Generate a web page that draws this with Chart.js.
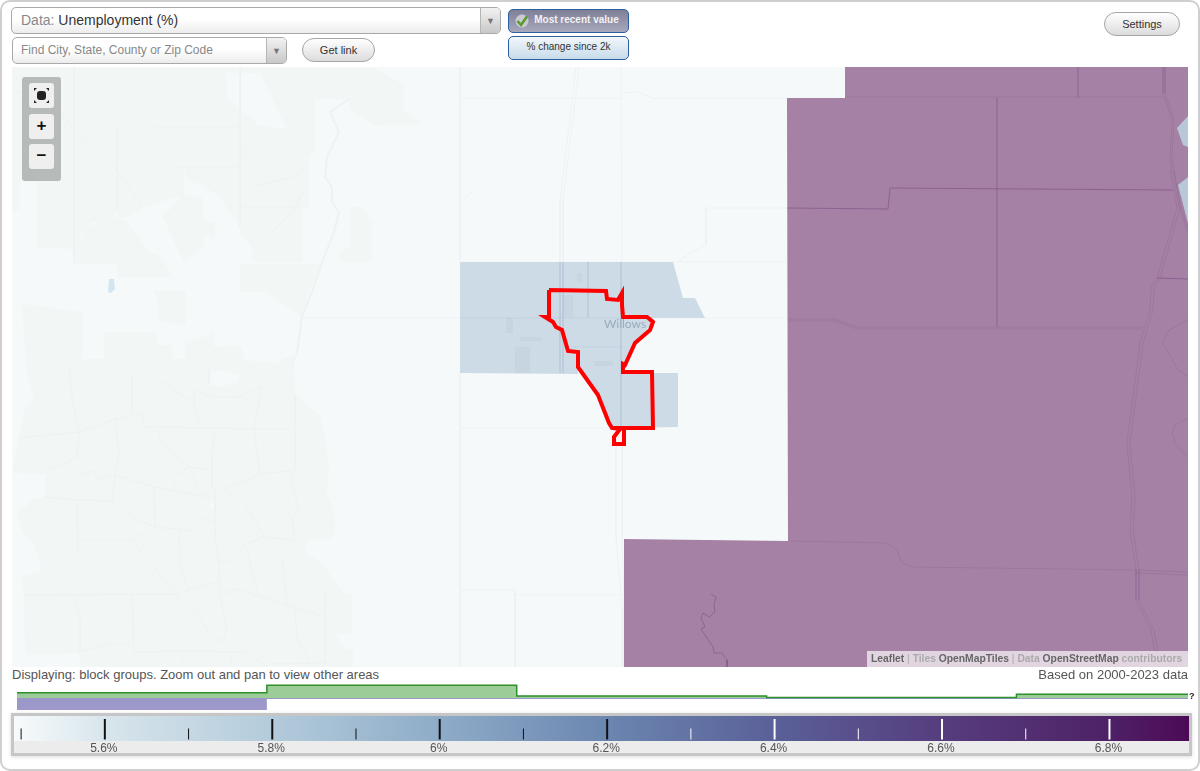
<!DOCTYPE html>
<html>

<head>
    <meta charset="utf-8">
    <title>Unemployment map</title>
    <script src="https://cdn.jsdelivr.net/npm/chart.js"></script>
    <style>
        html, body { margin: 0; padding: 0; background: #fff; }
        body { width: 1200px; height: 771px; position: relative; overflow: hidden; font-family: "Liberation Sans", Arial, sans-serif; }
        .abs { position: absolute; box-sizing: border-box; white-space: nowrap; }
        canvas { position: absolute; display: block; }
        #frame { left: 0; top: 0; width: 1200px; height: 771px; border: 2px solid #cfcfcf; border-radius: 10px; border-top-width: 2px; }
        .combo { border: 1px solid #a9a9a9; border-radius: 5px; background: linear-gradient(#fff 45%, #ececec); color: #888; overflow: hidden; }
        .combo i { position: absolute; right: 0; top: 0; bottom: 0; width: 19px; border-left: 1px solid #b5b5b5; background: linear-gradient(#f2f2f2, #c8c8c8); font-style: normal; color: #777; font-size: 9px; text-align: center; }
        .pill { border: 1px solid #a5a5a5; border-radius: 12px; background: linear-gradient(#fff, #dcdcdc); color: #333; font-size: 11px; text-align: center; }
        .toggle { border: 1.5px solid #2b5f9e; border-radius: 5px; text-align: center; font-size: 10px; }
        .zbtn { left: 29px; width: 25px; background: #efefef; border-radius: 3px; text-align: center; color: #111; font-weight: bold; }
    </style>
</head>

<body>
    <div class="abs" id="frame"></div>

    <div class="abs combo" style="left:11px;top:7px;width:490px;height:27px;font-size:14px;line-height:25px;padding-left:9px;">Data: <span style="color:#333">Unemployment (%)</span><i style="line-height:26px">&#9660;</i></div>
    <div class="abs combo" style="left:12px;top:37px;width:275px;height:27px;font-size:12px;line-height:25px;padding-left:8px;">Find City, State, County or Zip Code<i style="line-height:26px">&#9660;</i></div>
    <div class="abs pill" style="left:302px;top:38px;width:73px;height:24px;line-height:23px;">Get link</div>
    <div class="abs toggle" style="left:508px;top:9px;width:121px;height:24px;line-height:20px;background:linear-gradient(#7f8098,#a7a8bb);color:#f2f2f2;font-weight:bold;padding-left:16px;">Most recent value
        <svg style="position:absolute;left:5px;top:3px" width="16" height="16" viewBox="0 0 16 16"><circle cx="8" cy="8" r="6.5" fill="#c9cad6"/><path d="M3.5 8 L7 12 L13 3.5" fill="none" stroke="#5d9a2c" stroke-width="2.6"/></svg>
    </div>
    <div class="abs toggle" style="left:508px;top:36px;width:121px;height:24px;line-height:20px;background:linear-gradient(#f2f7fb,#c8dbea);color:#333;">% change since 2k</div>
    <div class="abs pill" style="left:1104px;top:12px;width:76px;height:24px;line-height:23px;">Settings</div>

    <canvas id="map-chart" width="1176" height="600" style="left:12px;top:67px"></canvas>

    <div class="abs" style="left:22px;top:77px;width:39px;height:104px;background:#b6bab8;border-radius:3px;"></div>
    <div class="abs zbtn" style="top:83px;height:25px;">
        <svg width="25" height="25" viewBox="0 0 25 25" style="display:block"><rect x="8" y="8" width="9" height="9" rx="3" fill="#222"/><path d="M5 5 h3 l-3 3z M20 5 h-3 l3 3z M5 20 h3 l-3 -3z M20 20 h-3 l3 -3z" fill="#222"/></svg>
    </div>
    <div class="abs zbtn" style="top:114px;height:25px;font-size:17px;line-height:24px;">+</div>
    <div class="abs zbtn" style="top:144px;height:25px;font-size:17px;line-height:23px;">&#8722;</div>

    <div class="abs" style="left:867px;top:651px;width:321px;height:16px;background:rgba(255,255,255,.67);font-size:10.3px;line-height:16px;font-weight:bold;color:#666;padding-left:4px;overflow:hidden;">Leaflet <span style="color:#aaa;font-weight:normal">|</span> <span style="color:#aaa">Tiles</span> OpenMapTiles <span style="color:#aaa;font-weight:normal">|</span> <span style="color:#aaa">Data</span> OpenStreetMap <span style="color:#aaa">contributors</span></div>

    <div class="abs" style="left:12px;top:667px;font-size:13px;line-height:15px;color:#555;">Displaying: block groups. Zoom out and pan to view other areas</div>
    <div class="abs" style="right:12px;top:667px;font-size:13px;line-height:15px;color:#555;">Based on 2000-2023 data</div>

    <canvas id="hist-chart" width="1171" height="28" style="left:17px;top:684px"></canvas>
    <div class="abs" style="left:1189px;top:691px;font-size:9px;font-weight:bold;color:#222;">?</div>

    <div class="abs" style="left:11px;top:713px;width:1181px;height:43px;border:3px solid #c6c6c6;background:#ececec;box-shadow:0 1px 4px #ddd;"></div>
    <canvas id="legend-chart" width="1175" height="37" style="left:14px;top:716px"></canvas>

    <script>
        // histogram under the map
        const binEdges = [5.5, 5.8, 6.1, 6.4, 6.7, 6.906];
        const areaShare = [5.3, 12.7, 2, 0.5, 3.7];
        const popShare = [-12, -1, -1, -1, -1];

        // colour scale
        const scaleMin = 5.4915;
        const scaleMax = 6.895;
        const rampValues = [5.4915, 5.6, 5.8, 6.0, 6.2, 6.4, 6.6, 6.8, 6.895];
        const rampColors = ['#f7fbfc', '#d8e5ec', '#b3cbdb', '#8eacc8', '#6b86b0', '#5a6098', '#563d7e', '#4e2166', '#4c0a56'];
        const majorTicks = [5.6, 5.8, 6.0, 6.2, 6.4, 6.6, 6.8];
        const minorTicks = [5.5, 5.7, 5.9, 6.1, 6.3, 6.5, 6.7];

        // map shapes, in map units from the panel's top-left corner
        const purpleTract = [[833,0],[1176,0],[1176,600],[612,600],[612,472],[776,474],[775,31],[833,31]];
        const blueTract = [[448,195],[661,195],[671,231],[683,231],[693,251],[641,251],[641,255],[623,276],[611,300],[611,306],[666,306],[666,360],[610,361],[601,361],[598,355],[586,328],[566,300],[566,307],[448,306]];
        const blueEastA = [[1176,49],[1165,61],[1171,78],[1176,80]];
        const blueEastB = [[1176,110],[1166,118],[1176,156]];
        const selectedPlace = [[537,223],[594,224],[595,232],[606,233],[610,226],[610,238],[611,250],[635,250],[641,255],[638,263],[623,276],[613,298],[611,297],[611,305],[640,305],[641,361],[610,361],[612,362],[612,377],[602,377],[602,370],[608,362],[600,361],[597,356],[586,328],[566,300],[566,285],[556,284],[550,263],[544,260],[541,255],[533,250],[537,250],[537,223]];
        const placeNames = ['Willows'];
        const placeSpots = [[613,257]];

        const terrainNorth = [[0,0],[360,0],[392,18],[392,45],[410,57],[362,58],[337,42],[337,32],[303,32],[303,86],[297,88],[297,141],[290,141],[290,195],[241,195],[240,182],[232,168],[228,168],[228,160],[208,130],[190,118],[175,113],[172,100],[172,128],[132,140],[115,150],[105,150],[105,143],[97,155],[80,155],[70,165],[63,182],[25,180],[25,115],[8,115],[8,143],[0,143]];
        const terrainHoleNorth = [[215,6],[248,6],[275,62],[245,58],[238,50],[215,32]];
        const terrainMidA = [[150,148],[158,143],[170,128],[190,130],[192,155],[203,155],[203,170],[192,170],[192,180],[172,195],[160,170]];
        const terrainMidB = [[105,150],[115,155],[137,185],[150,190],[160,210],[105,210],[105,197],[63,197],[63,183],[75,160]];
        const terrainMidC = [[228,197],[308,197],[300,218],[290,250],[255,225],[228,225]];
        const terrainMidD = [[141,224],[174,224],[174,258],[148,255],[146,245],[146,235]];
        const terrainMidE = [[338,140],[350,140],[360,155],[360,195],[328,195],[328,188],[338,178]];
        const terrainSouth = [[10,237],[71,245],[71,292],[92,292],[92,265],[145,265],[145,278],[160,278],[160,292],[173,292],[173,275],[193,270],[202,265],[202,280],[228,279],[233,293],[253,295],[267,297],[270,292],[282,288],[283,327],[300,343],[308,348],[313,370],[317,400],[315,427],[322,445],[323,463],[318,472],[297,473],[293,485],[310,497],[325,517],[333,527],[340,527],[340,567],[323,567],[333,582],[341,583],[341,600],[68,600],[67,586],[13,588],[12,528],[9,510],[30,503],[22,477],[12,467],[5,447],[22,432],[33,430],[33,407],[0,406],[7,370],[13,343],[22,330],[15,310]];
        const terrainHoleSouth = [[197,305],[212,303],[228,308],[225,315],[210,320],[198,318]];
        const terrainHoleSmall = [[198,435],[203,435],[203,443],[198,443]];
        const lake = [[97,212],[102,212],[103,222],[99,226],[96,225]];
        const townBlocks = [
            [[494,251],[501,251],[501,266],[494,266]],
            [[508,270],[530,270],[530,274],[508,274]],
            [[503,280],[518,280],[518,306],[503,306]],
            [[582,294],[601,294],[601,299],[582,299]],
            [[565,206],[570,206],[570,216],[565,216]],
            [[551,228],[561,228],[561,250],[551,250]]
        ];

        const terrainLines = [
            [[7,371],[67,365],[103,352],[130,347],[132,360],[145,360],[243,362],[283,362]],
            [[57,300],[60,330],[67,365],[65,390],[33,405]],
            [[103,352],[107,385],[103,408],[100,434]],
            [[69,407],[82,404],[85,412],[103,408],[142,420],[197,430]],
            [[65,433],[66,487]],
            [[33,430],[65,433],[100,434],[120,450],[143,460],[182,464],[192,452],[203,455]],
            [[142,420],[143,460]],
            [[120,473],[137,462]],
            [[66,473],[120,473],[163,527],[208,514]],
            [[167,463],[168,497],[176,522]],
            [[203,423],[203,470],[207,497],[208,527],[215,563],[210,575],[195,563],[185,547],[163,527]],
            [[210,527],[225,522],[275,538],[313,550]],
            [[207,495],[217,494],[233,477],[253,470],[282,473]],
            [[233,477],[247,530]],
            [[213,422],[250,407],[283,403]],
            [[203,363],[200,390],[200,420]],
            [[242,363],[248,407]],
            [[177,400],[200,403]],
            [[145,362],[150,377],[177,400],[160,412],[167,423]],
            [[177,400],[187,423],[197,430]],
            [[213,422],[233,437],[255,475]],
            [[283,327],[283,403],[278,413],[287,442],[280,450],[282,470]],
            [[270,490],[275,538]],
            [[62,528],[68,553],[68,585]],
            [[12,528],[163,527]],
            [[120,528],[122,585]],
            [[68,585],[95,577],[122,577]],
            [[122,585],[175,584],[233,585],[257,600]],
            [[283,542],[285,573],[297,593]],
            [[313,527],[313,597]],
            [[257,597],[313,596]],
            [[175,584],[168,600]],
            [[220,585],[218,600]],
            [[120,307],[120,347]],
            [[147,313],[182,336],[188,360]],
            [[197,300],[197,317]],
            [[182,336],[183,323],[200,330],[227,330],[250,320],[242,362]],
            [[62,0],[62,197]],
            [[105,60],[105,143]],
            [[228,0],[228,160]],
            [[228,85],[297,85]],
            [[228,140],[290,140]],
            [[142,60],[228,60]],
            [[160,100],[228,100]],
            [[0,22],[45,40],[60,60],[102,100],[130,140]],
            [[240,120],[280,110],[297,100]],
            [[255,170],[280,145],[297,115]]
        ];
        const riverLines = [
            [[337,32],[318,45],[327,65],[315,90],[313,110],[320,120],[320,135],[327,145],[322,165],[312,190],[300,225],[290,250],[285,285]]
        ];
        const roadsLight = [
            [[448,0],[448,195]],
            [[448,306],[448,600]],
            [[609,0],[610,195]],
            [[448,31],[609,31]],
            [[609,26],[625,25],[640,31],[775,31]],
            [[775,141],[694,141],[694,178],[680,185],[665,195]],
            [[448,195],[775,195]],
            [[290,251],[775,251]],
            [[448,361],[600,361]],
            [[564,0],[548,133],[548,250]],
            [[567,0],[551,133],[551,250]],
            [[604,362],[604,470],[610,540],[610,600]],
            [[610,362],[610,470],[612,540],[612,600]],
            [[448,523],[503,523],[503,600]],
            [[503,528],[608,528]],
            [[285,285],[280,300]],
            [[460,125],[448,135]]
        ];
        const roadsBlue = [
            [[448,251],[641,251]],
            [[548,195],[548,306]],
            [[551,195],[551,306]],
            [[609,195],[609,361]],
            [[576,195],[576,250]],
            [[560,280],[610,280]]
        ];
        const roadsPurpleDark = [
            [[775,141],[876,142],[878,121],[1161,123]],
            [[1145,211],[1176,212]]
        ];
        const roadsPurple = [
            [[985,31],[985,260]],
            [[1066,0],[1066,30]],
            [[833,30],[1151,30]],
            [[776,252],[823,252],[845,260],[1131,260]],
            [[776,254],[823,254],[845,262],[1131,262]],
            [[1151,0],[1151,26],[1160,53],[1158,93],[1166,136],[1176,166]],
            [[1153,0],[1153,26],[1162,53],[1160,93],[1168,136],[1176,162]],
            [[1158,103],[1165,141],[1145,211],[1139,220],[1138,243],[1128,276],[1115,376],[1120,430],[1118,463],[1124,503],[1124,533],[1139,563],[1143,586],[1144,600]],
            [[1162,103],[1168,141],[1148,211],[1142,220],[1141,243],[1131,276],[1118,376],[1123,430],[1121,463],[1127,503],[1127,533],[1142,563],[1146,586],[1147,600]],
            [[779,474],[875,476],[885,483],[890,496],[900,500],[1124,503],[1176,505]],
            [[1124,506],[1176,508]],
            [[1176,253],[1156,264],[1151,276],[1166,303],[1176,310]],
            [[1176,351],[1163,358],[1160,366],[1163,373],[1162,376],[1175,390]],
            [[1162,596],[1175,585]]
        ];
        const streamPurple = [[699,527],[704,530],[702,538],[703,545],[697,550],[691,546],[689,551],[693,560],[689,562],[701,580],[702,586],[710,586],[715,593],[715,600]];

        function toPoints(pairs) {
            return pairs.map(p => ({ x: p[0], y: p[1] }));
        }

        function shape(pairs, color) {
            return { type: 'scatter', data: toPoints(pairs), showLine: true, fill: 'shape', backgroundColor: color, borderWidth: 0, borderColor: color, pointRadius: 0, tension: 0 };
        }

        function path(pairs, color, width) {
            return { type: 'scatter', data: toPoints(pairs), showLine: true, fill: false, borderColor: color, borderWidth: width, pointRadius: 0, tension: 0, borderJoinStyle: 'miter' };
        }

        const mapColor = '#f5f9fa';
        const terrainColor = '#f2f6f5';
        const purpleColor = '#a581a5';
        const blueColor = '#cddbe6';

        // listed bottom to top, Chart.js draws the first dataset last so it gets reversed below
        const mapLayers = [
            ...[terrainNorth, terrainMidA, terrainMidB, terrainMidC, terrainMidD, terrainMidE, terrainSouth].map(s => shape(s, terrainColor)),
            ...[terrainHoleNorth, terrainHoleSouth, terrainHoleSmall].map(s => shape(s, mapColor)),
            ...terrainLines.map(l => path(l, '#eef2f1', 1)),
            ...riverLines.map(l => path(l, '#eef2f2', 2)),
            shape(lake, '#d3e6f0'),
            ...roadsLight.map(l => path(l, '#edf2f4', 1)),
            shape(blueTract, blueColor),
            ...townBlocks.map(s => shape(s, 'rgba(150,170,190,.1)')),
            ...roadsBlue.map(l => path(l, 'rgba(150,172,192,.18)', 1)),
            shape(purpleTract, purpleColor),
            shape(blueEastA, '#b9c8d8'),
            shape(blueEastB, '#b9c8d8'),
            ...roadsPurple.map(l => path(l, 'rgba(120,80,130,.2)', 1)),
            ...roadsPurpleDark.map(l => path(l, 'rgba(110,60,120,.45)', 1)),
            path(streamPurple, 'rgba(110,70,120,.45)', 1),
            path(selectedPlace, '#ff0000', 4)
        ];

        const placeLabelPlugin = {
            id: 'placeLabels',
            afterDatasetsDraw(chart) {
                const { ctx, scales } = chart;
                ctx.save();
                ctx.font = '12px Lato';
                ctx.fillStyle = '#9aabbd';
                ctx.textAlign = 'center';
                ctx.textBaseline = 'middle';
                placeNames.forEach((name, i) => {
                    ctx.fillText(name, scales.x.getPixelForValue(placeSpots[i][0]), scales.y.getPixelForValue(placeSpots[i][1]));
                });
                ctx.restore();
            }
        };

        const mapChart = new Chart(document.getElementById('map-chart'), {
            type: 'scatter',
            data: { datasets: mapLayers.reverse() },
            options: {
                responsive: false,
                animation: false,
                devicePixelRatio: 1,
                layout: { padding: 0 },
                plugins: { legend: { display: false }, tooltip: { enabled: false } },
                events: [],
                scales: {
                    x: { type: 'linear', display: false, min: 0, max: 1176 },
                    y: { type: 'linear', display: false, min: 0, max: 600, reverse: true }
                }
            },
            plugins: [placeLabelPlugin, {
                id: 'mapBackground',
                beforeDraw(chart) {
                    chart.ctx.fillStyle = mapColor;
                    chart.ctx.fillRect(0, 0, chart.width, chart.height);
                }
            }]
        });

        function stepPoints(values) {
            return binEdges.map((edge, i) => ({ x: edge, y: values[Math.min(i, values.length - 1)] }));
        }

        const histChart = new Chart(document.getElementById('hist-chart'), {
            type: 'scatter',
            data: {
                datasets: [
                    { data: stepPoints(areaShare), showLine: true, stepped: 'before', fill: 'origin', backgroundColor: '#9ccd99', borderColor: '#2c8f2c', borderWidth: 1.5, pointRadius: 0 },
                    { data: stepPoints(popShare), showLine: true, stepped: 'before', fill: 'origin', backgroundColor: '#9c99ca', borderColor: '#9c99ca', borderWidth: 0, pointRadius: 0 }
                ]
            },
            options: {
                responsive: false,
                animation: false,
                devicePixelRatio: 1,
                layout: { padding: 0 },
                plugins: { legend: { display: false }, tooltip: { enabled: false } },
                events: [],
                scales: {
                    x: { type: 'linear', display: false, min: 5.5, max: 6.906 },
                    y: { type: 'linear', display: false, min: -14, max: 14 }
                }
            }
        });

        function rampFill(context) {
            const chart = context.chart;
            if (!chart.chartArea) {
                return rampColors[0];
            }
            const x = chart.scales.x;
            const gradient = chart.ctx.createLinearGradient(x.left, 0, x.right, 0);
            rampValues.forEach((v, i) => gradient.addColorStop((v - scaleMin) / (scaleMax - scaleMin), rampColors[i]));
            return gradient;
        }

        function tickMark(value, top) {
            return {
                data: [{ x: value, y: 0.06 }, { x: value, y: top }],
                showLine: true,
                fill: false,
                borderColor: value > 6.25 ? '#ffffff' : '#111111',
                borderWidth: top > 0.7 ? 2 : 1,
                pointRadius: 0
            };
        }

        const legendChart = new Chart(document.getElementById('legend-chart'), {
            type: 'scatter',
            data: {
                datasets: [
                    ...majorTicks.map(v => tickMark(v, 0.88)),
                    ...minorTicks.map(v => tickMark(v, 0.5)),
                    { data: [{ x: scaleMin, y: 1 }, { x: scaleMax, y: 1 }], showLine: true, fill: 'origin', backgroundColor: rampFill, borderWidth: 0, pointRadius: 0 }
                ]
            },
            options: {
                responsive: false,
                animation: false,
                devicePixelRatio: 1,
                layout: { padding: 0 },
                plugins: { legend: { display: false }, tooltip: { enabled: false } },
                events: [],
                scales: {
                    x: {
                        type: 'linear',
                        min: scaleMin,
                        max: scaleMax,
                        grid: { display: false, drawTicks: false },
                        border: { display: false },
                        afterBuildTicks: axis => { axis.ticks = majorTicks.map(v => ({ value: v })); },
                        afterFit: axis => { axis.height = 12; },
                        ticks: {
                            padding: 0,
                            maxRotation: 0,
                            autoSkip: false,
                            color: '#555',
                            font: { family: '"Liberation Sans"', size: 12 },
                            labelOffset: -1,
                            callback: v => v + '%'
                        }
                    },
                    y: { type: 'linear', display: false, min: 0, max: 1 }
                }
            }
        });
    </script>
</body>

</html>
